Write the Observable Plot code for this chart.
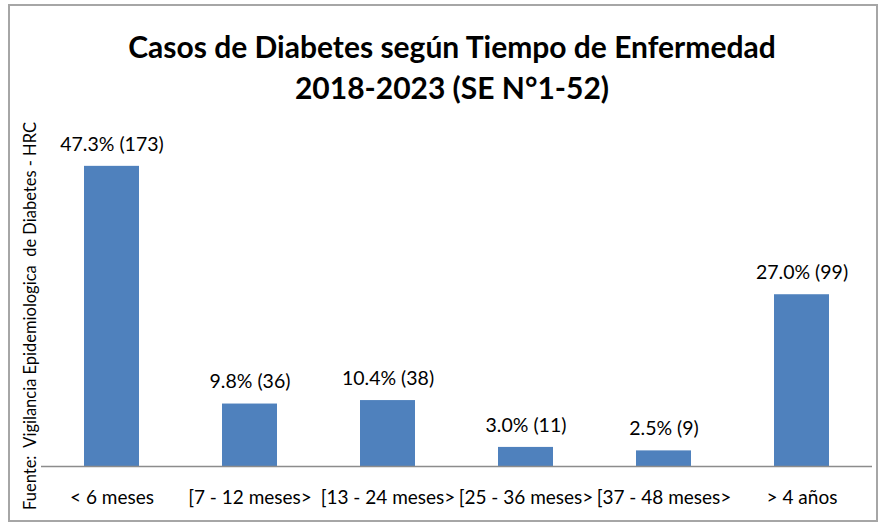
<!DOCTYPE html>
<html>
<head>
<meta charset="utf-8">
<script src="https://cdn.jsdelivr.net/npm/d3@7"></script>
<script src="https://cdn.jsdelivr.net/npm/@observablehq/plot@0.6"></script>
<style>
  body { margin: 0; background: #fff; }
  #wrap { position: relative; width: 884px; height: 526px; overflow: hidden; font-family: Lato, "Open Sans", sans-serif; }
  #frame { position: absolute; left: 8px; top: 4px; width: 866px; height: 514px; border: 2px solid #a6a6a6; box-sizing: content-box; }
  #title { position: absolute; left: 0; width: 904px; top: 26px; text-align: center; font-weight: bold; font-size: 30px; line-height: 41px; color: #000; }
  #source { position: absolute; left: 30px; top: 316px; transform: translate(-50%, -50%) rotate(-90deg); white-space: pre; font-size: 16.5px; color: #000; }
  #chart { position: absolute; left: 0; top: 0; }
</style>
</head>
<body>
<div id="wrap">
  <div id="frame"></div>
  <div id="chart"></div>
  <div id="title">Casos de Diabetes según Tiempo de Enfermedad<br>2018-2023 (SE N°1-52)</div>
  <div id="source">Fuente:  Vigilancia Epidemiologica  de Diabetes - HRC</div>
</div>
<script>
const categories = ["< 6 meses", "[7 - 12 meses>", "[13 - 24 meses>", "[25 - 36 meses>", "[37 - 48 meses>", "> 4 años"];
const cases = [173, 36, 38, 11, 9, 99];
const percents = ["47.3%", "9.8%", "10.4%", "3.0%", "2.5%", "27.0%"];

const data = categories.map((c, i) => ({cat: c, n: cases[i], label: `${percents[i]} (${cases[i]})`}));

const chart = Plot.plot({
  width: 884,
  height: 526,
  marginLeft: 41,
  marginRight: 12,
  marginTop: 119,
  marginBottom: 60,
  style: {fontFamily: "Lato, 'Open Sans', sans-serif", fontSize: "19px", color: "#000", background: "transparent"},
  x: {domain: categories, paddingInner: 0.6, paddingOuter: 0.3, label: null},
  y: {domain: [0, 200], axis: null},
  marks: [
    Plot.barY(data, {x: "cat", y: "n", fill: "#4f81bd"}),
    Plot.ruleY([0], {stroke: "#8c8c8c", strokeWidth: 1.5}),
    Plot.axisX({tickSize: 0, tickPadding: 24, fontSize: 19, fill: "#000", label: null}),
    Plot.text(data, {x: "cat", y: "n", text: "label", dy: -22, fontSize: 19.5, fill: "#000"})
  ]
});
document.getElementById("chart").appendChild(chart);
</script>
</body>
</html>
